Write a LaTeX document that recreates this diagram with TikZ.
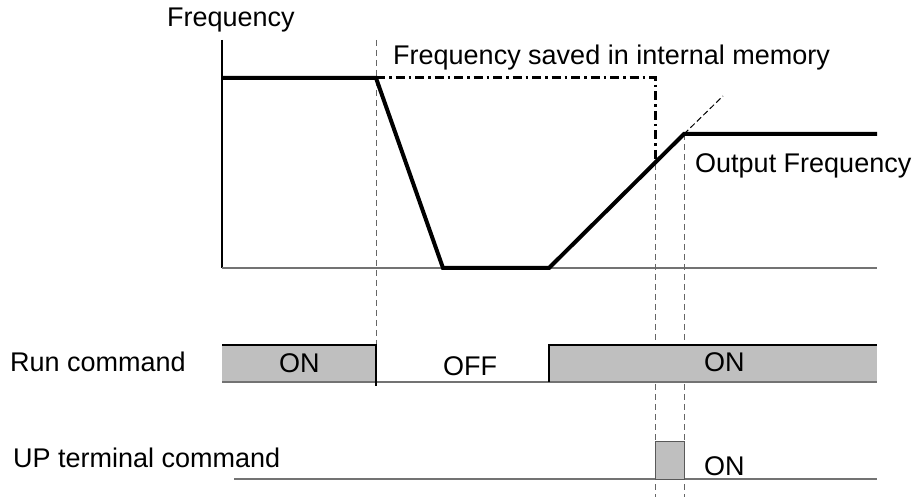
\documentclass[tikz,border=0pt]{standalone}
\usepackage{fontspec}
\setmainfont{Liberation Sans}
\usepackage{tikz}
\usetikzlibrary{positioning}

\begin{document}
\begin{tikzpicture}[x=1pt,y=-1pt,font=\fontsize{27}{32}\selectfont]
  \tikzset{
    lbl/.style={inner sep=0pt,anchor=base west},
    wave/.style={line width=4pt,line join=miter},
    edge/.style={line width=2pt},
    base/.style={line width=1.3pt,black!55},
    guide/.style={line width=1pt,black!60,dash pattern=on 6pt off 4pt},
    saved/.style={line width=3pt,dash pattern=on 9pt off 4pt on 2.5pt off 4pt},
    onfill/.style={fill=black!25}
  }
  \useasboundingbox (0,0) rectangle (914,497);
  % frequency chart
  \coordinate (origin) at (222,268);
  \coordinate (ytop) at (222,40);
  \coordinate (xend) at (877,268);
  \coordinate (hold) at (222,78);
  \coordinate (stop) at (376,78);
  \coordinate (low1) at (443,268);
  \coordinate (low2) at (549,268);
  \coordinate (reach) at (684,134);
  \coordinate (fend) at (877,134);
  \coordinate (ext) at (723,96);
  \coordinate (mem) at (655,78);
  \coordinate (cross) at (655,164);
  \draw[line width=1.2pt] (ytop) -- (origin);
  \draw[base] (origin) -- (xend);
  \draw[guide] (376,40) -- (376,345);
  \draw[guide] (cross) -- (655,497);
  \draw[guide] (reach) -- (684,497);
  \draw[saved] (stop) -- (mem) -- (cross);
  \draw[line width=1pt,dash pattern=on 6pt off 3pt] (reach) -- (ext);
  \draw[wave] (hold) -- (stop) -- (low1) -- (low2) -- (reach) -- (fend);
  \node[lbl] (freq) at (167,27) {Frequency};
  \node[lbl] (savedlbl) at (393,65) {Frequency saved in internal memory};
  \node[lbl] (outlbl) at (695,173) {Output Frequency};
  % run command
  \fill[onfill] (222,345) rectangle (376,382);
  \fill[onfill] (549,345) rectangle (877,382);
  \draw[base] (222,382) -- (877,382);
  \draw[edge] (222,345) -- (376,345) -- (376,386);
  \draw[edge] (549,382) -- (549,345) -- (877,345);
  \node[lbl] (runlbl) at (10,372) {Run command};
  \node[lbl] (runon1) at (279,373) {ON};
  \node[lbl] (runoff) at (443,375) {OFF};
  \node[lbl] (runon2) at (704,372) {ON};
  % up terminal command
  \draw[base] (234,479) -- (877,479);
  \draw[onfill,draw=black!65,line width=1pt] (655,441) rectangle (684,479);
  \node[lbl] (uplbl) at (13,467) {UP terminal command};
  \node[lbl] (upon) at (704,475) {ON};
\end{tikzpicture}
\end{document}
